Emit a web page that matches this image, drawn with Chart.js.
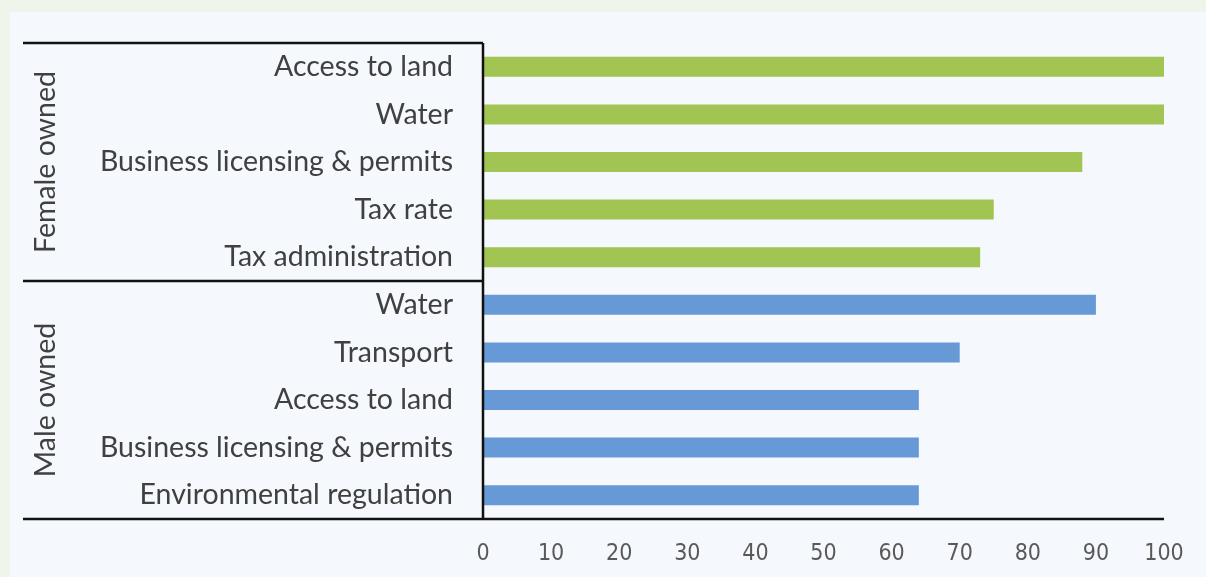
<!DOCTYPE html>
<html>
<head>
<meta charset="utf-8">
<script src="https://cdn.jsdelivr.net/npm/chart.js@4.4.1/dist/chart.umd.min.js"></script>
<style>
    html, body { margin: 0; padding: 0; background: #eff5ea; }
    #wrap { position: relative; width: 1206px; height: 577px; }
</style>
</head>
<body>
<div id="wrap"><canvas id="obstacleChart"></canvas></div>
<script>
const categories = [
    'Access to land', 'Water', 'Business licensing & permits', 'Tax rate', 'Tax administration',
    'Water', 'Transport', 'Access to land', 'Business licensing & permits', 'Environmental regulation'
];
const values = [100, 100, 88, 75, 73, 90, 70, 64, 64, 64];
const groupNames = ['Female owned', 'Male owned'];
const groupSizes = [5, 5];
const xTicks = [0, 10, 20, 30, 40, 50, 60, 70, 80, 90, 100];

const colors = {
    female: '#a1c452',
    male: '#6699d5',
    panel: '#f5f8fc',
    label: '#404040',
    tick: '#595959',
    line: '#111111'
};

const barColors = [];
groupSizes.forEach((n, g) => {
    for (let i = 0; i < n; i++) barColors.push(g === 0 ? colors.female : colors.male);
});

const labelFont = { family: 'Lato, "Open Sans", sans-serif', size: 28.5 };

const frame = {
    id: 'frame',
    beforeDraw(chart) {
        const ctx = chart.ctx;
        ctx.save();
        ctx.fillStyle = colors.panel;
        ctx.fillRect(10, 12, chart.width - 10, chart.height - 12);
        ctx.restore();
    },
    afterDraw(chart) {
        const ctx = chart.ctx;
        const area = chart.chartArea;
        const y = chart.scales.y;
        const left = 23;
        ctx.save();
        ctx.strokeStyle = colors.line;
        ctx.lineWidth = 2.5;
        // group boundaries
        let start = 0;
        const bounds = [area.top];
        groupSizes.forEach(n => {
            start += n;
            bounds.push(start < categories.length ? y.getPixelForValue(start - 0.5) : area.bottom);
        });
        ctx.beginPath();
        bounds.forEach((b, i) => {
            const right = i === bounds.length - 1 ? area.right : area.left;
            ctx.moveTo(left, b);
            ctx.lineTo(right, b);
        });
        ctx.moveTo(area.left, area.top);
        ctx.lineTo(area.left, area.bottom);
        ctx.stroke();
        // group labels
        ctx.fillStyle = colors.label;
        ctx.font = labelFont.size + 'px ' + labelFont.family;
        ctx.textAlign = 'center';
        ctx.textBaseline = 'middle';
        groupNames.forEach((name, i) => {
            const mid = (bounds[i] + bounds[i + 1]) / 2;
            ctx.save();
            ctx.translate(46, mid);
            ctx.rotate(-Math.PI / 2);
            ctx.fillText(name, 0, 0);
            ctx.restore();
        });
        ctx.restore();
    }
};

new Chart(document.getElementById('obstacleChart'), {
    type: 'bar',
    data: {
        labels: categories,
        datasets: [{
            data: values,
            backgroundColor: barColors,
            borderWidth: 0,
            barPercentage: 0.42,
            categoryPercentage: 1
        }]
    },
    options: {
        indexAxis: 'y',
        responsive: true,
        maintainAspectRatio: false,
        animation: false,
        layout: { padding: { top: 43, right: 42, left: 0, bottom: 0 } },
        scales: {
            y: {
                grid: { display: false },
                border: { display: false },
                ticks: {
                    color: colors.label,
                    font: labelFont,
                    padding: 22
                },
                afterFit(scale) { scale.width = 483; }
            },
            x: {
                min: 0,
                max: 100,
                grid: { display: false },
                border: { display: false },
                afterBuildTicks(scale) { scale.ticks = xTicks.map(v => ({ value: v })); },
                ticks: {
                    color: colors.tick,
                    font: { family: '"Liberation Sans Narrow", "DejaVu Sans Condensed", sans-serif', size: 23 },
                    padding: 13,
                    maxRotation: 0
                },
                afterFit(scale) { scale.height = 58; }
            }
        },
        plugins: {
            legend: { display: false },
            tooltip: { enabled: false }
        }
    },
    plugins: [frame]
});
</script>
</body>
</html>
